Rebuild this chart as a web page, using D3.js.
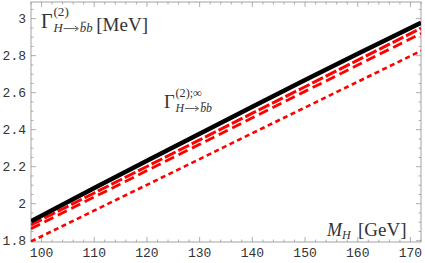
<!DOCTYPE html>
<html><head><meta charset="utf-8">
<script src="https://cdn.jsdelivr.net/npm/d3@7"></script>
<style>body{margin:0;background:#fff}svg{display:block}
.tk{font-family:"Liberation Mono","Courier New","DejaVu Sans Mono",monospace;font-size:13px;fill:#333}
.sf{font-family:"Liberation Serif","Times New Roman",serif;fill:#333}
</style>
</head><body>
<svg id="c" width="425" height="263"></svg>
<script>
const massX = [98, 110, 120, 130, 140, 150, 160, 172];
const gammaFull = [1.905, 2.085, 2.232, 2.378, 2.524, 2.668, 2.810, 2.978];
const gammaA = [1.885, 2.058, 2.201, 2.345, 2.489, 2.632, 2.776, 2.948];
const gammaB = [1.865, 2.036, 2.179, 2.321, 2.464, 2.607, 2.749, 2.920];
const gammaC = [1.796, 1.963, 2.102, 2.241, 2.381, 2.520, 2.659, 2.826];
const xTicks = [100, 110, 120, 130, 140, 150, 160, 170];
const yTicks = [1.8, 2.0, 2.2, 2.4, 2.6, 2.8, 3.0];
const yTickLabels = ["1.8", "2", "2.2", "2.4", "2.6", "2.8", "3"];

const svg = d3.select("#c");
const L = 31, R = 421, T = 2, B = 242;
const x = d3.scaleLinear().domain([98, 172]).range([L, R]);
const y = d3.scaleLinear().domain([1.793, 3.09]).range([B, T]);

const frameCol = "#999";
const xMinor = d3.range(98, 172.01, 2);
const yMinor = d3.range(1.8, 3.09, 0.05);
const g = svg.append("g");
function tickLine(x1, y1, x2, y2) {
  g.append("line").attr("x1", x1).attr("y1", y1).attr("x2", x2).attr("y2", y2)
    .attr("stroke", frameCol).attr("stroke-width", 0.8);
}
xMinor.forEach(v => {
  const major = xTicks.some(t => Math.abs(t - v) < 1e-6);
  const len = major ? 5 : 2.5;
  tickLine(x(v), B, x(v), B - len);
  tickLine(x(v), T, x(v), T + len);
});
yMinor.forEach(v => {
  const major = yTicks.some(t => Math.abs(t - v) < 1e-6);
  const len = major ? 5 : 2.5;
  tickLine(L, y(v), L + len, y(v));
  tickLine(R, y(v), R - len, y(v));
});

svg.append("rect").attr("x", L).attr("y", T).attr("width", R - L).attr("height", B - T)
  .attr("fill", "none").attr("stroke", frameCol).attr("stroke-width", 0.9);

svg.append("g").selectAll("text").data(xTicks).join("text").attr("class", "tk")
  .attr("x", d => x(d)).attr("y", 257).attr("text-anchor", "middle")
  .text(d => d);
svg.append("g").selectAll("text").data(yTicks).join("text").attr("class", "tk")
  .attr("x", 26).attr("y", d => y(d) + 4.5).attr("text-anchor", "end")
  .text((d, i) => yTickLabels[i]);

svg.append("clipPath").attr("id", "clp").append("rect")
  .attr("x", L).attr("y", T).attr("width", R - L).attr("height", B - T);
const line = d3.line().x((d, i) => x(massX[i])).y(d => y(d));
const series = [
  {data: gammaC, color: "#ff0000", w: 2.6, dash: "5,3.5"},
  {data: gammaB, color: "#ff0000", w: 2.8, dash: "10,5"},
  {data: gammaA, color: "#ff0000", w: 3, dash: "12,3"},
  {data: gammaFull, color: "#000", w: 4.5, dash: null}
];
const lg = svg.append("g").attr("clip-path", "url(#clp)");
series.forEach(s => {
  lg.append("path").attr("d", line(s.data)).attr("fill", "none")
    .attr("stroke", s.color).attr("stroke-width", s.w)
    .attr("stroke-dasharray", s.dash);
});

function txt(x0, y0, s, size, italic) {
  return svg.append("text").attr("class", "sf").attr("x", x0).attr("y", y0)
    .style("font-size", size + "px").style("font-style", italic ? "italic" : "normal").text(s);
}
function gammaLabel(x0, y0, sup, gsize) {
  txt(x0, y0, "Γ", gsize, false);
  txt(x0 + gsize * 0.62, y0 - gsize * 0.6, sup, gsize * 0.66, false);
  const fs = gsize * 0.64;
  let sx = x0 + gsize * 0.62;
  const sy = y0 + gsize * 0.22;
  const h = txt(sx, sy, "H", fs, true);
  sx += h.node().getComputedTextLength() + 1;
  // arrow drawn as line + head
  const aw = fs * 1.15, ay = sy - fs * 0.3;
  svg.append("line").attr("x1", sx).attr("x2", sx + aw - 1).attr("y1", ay).attr("y2", ay)
    .attr("stroke", "#333").attr("stroke-width", 0.8);
  svg.append("path").attr("d", `M${sx + aw - 3.5},${ay - 2.5} L${sx + aw},${ay} L${sx + aw - 3.5},${ay + 2.5}`)
    .attr("fill", "none").attr("stroke", "#333").attr("stroke-width", 0.8);
  sx += aw + 1.5;
  txt(sx, sy, "bb", fs, true);
  svg.append("line").attr("x1", sx + fs * 0.1).attr("x2", sx + fs * 0.5)
    .attr("y1", sy - fs * 0.8).attr("y2", sy - fs * 0.8)
    .attr("stroke", "#333").attr("stroke-width", 0.8);
  return sx + fs * 1.05;
}
const e1 = gammaLabel(41, 28, "(2)", 20);
txt(Math.max(91, e1 + 3), 31, "[MeV]", 19, false);
gammaLabel(164, 108, "(2);∞", 18.5);

txt(327, 236, "M", 18, true);
txt(342, 239, "H", 12, true);
txt(358, 236, "[GeV]", 19, false);
</script>
</body></html>
